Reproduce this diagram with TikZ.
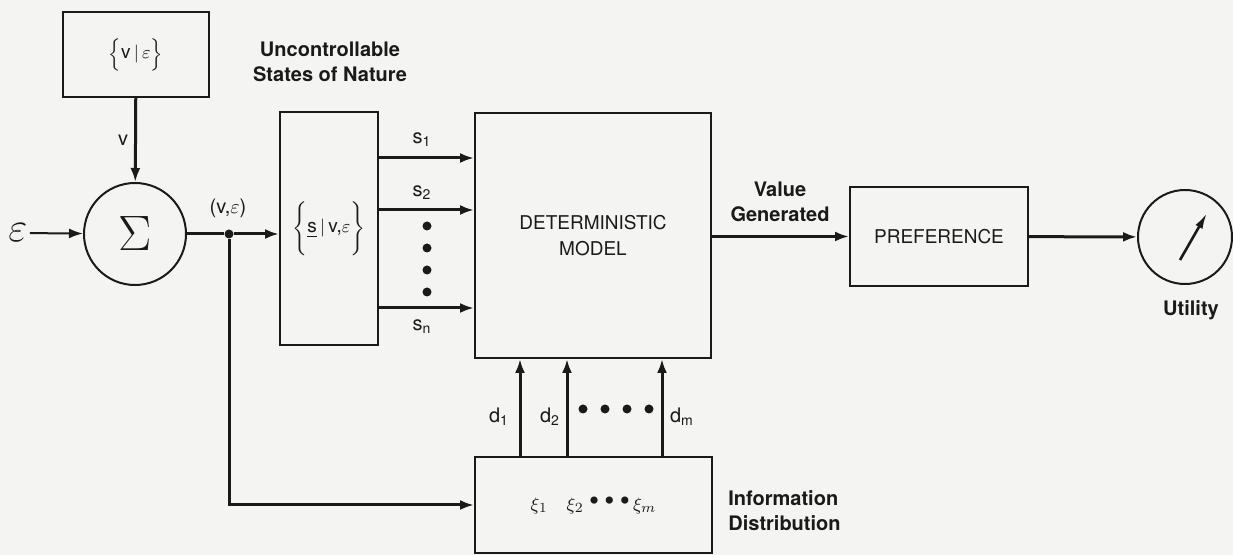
\documentclass[tikz,border=0pt]{standalone}
\usepackage{fontspec}
\setmainfont{TeX Gyre Heros}
\usepackage{amsmath}
\usetikzlibrary{arrows.meta,calc}
\definecolor{ink}{HTML}{1A1A1A}
\definecolor{paper}{HTML}{F4F4F2}

\begin{document}
\begin{tikzpicture}[x=0.5pt,y=-0.5pt,
  blk/.style={draw=ink,line width=1pt,text=ink,inner sep=0pt,font=\fontsize{9.5}{13}\selectfont,align=center},
  lbl/.style={text=ink,font=\fontsize{10}{12.5}\selectfont\bfseries,align=center,inner sep=1pt},
  sym/.style={text=ink,font=\fontsize{10}{12}\selectfont,inner sep=1pt},
  arr/.style={-{Latex[length=7pt,width=5pt]},line width=1.5pt,draw=ink},
  pt/.style={circle,fill=ink,inner sep=0pt,minimum size=4.5pt},
]
  \fill[paper] (0,0) rectangle (1233,555);
  \useasboundingbox (0,0) rectangle (1233,555);

  % input side
  \node[blk,minimum width=73pt,minimum height=42.5pt] (vbox) at (136,54.5) {$\Big\{$v\,$|$\,$\varepsilon\Big\}$};
  \node[blk,circle,minimum size=51pt] (sum) at (135,234) {\fontsize{27}{27}\selectfont$\Sigma$};
  \node[sym,font=\fontsize{20}{20}\selectfont] (eps) at (18,233) {$\varepsilon$};
  \node[sym] (vlab) at (123,140) {v};
  \node[pt] (jun) at (229,234) {};
  \node[sym] (velab) at (228,208) {(v,$\varepsilon$)};

  % states and model
  \node[blk,minimum width=49pt,minimum height=116.5pt] (states) at (329,228.5) {$\Bigg\{\underline{\text{s}}$\,$|$\,v,$\varepsilon\Bigg\}$};
  \node[lbl] (stlab) at (330,62) {Uncontrollable\\States of Nature};
  \node[blk,minimum width=118pt,minimum height=122.5pt] (model) at (593,235.5) {DETERMINISTIC\\MODEL};
  \node[blk,minimum width=118.5pt,minimum height=48pt] (info) at (593.5,505)
    {$\xi_1$\quad$\xi_2$\ {\Large\textbullet}\ {\Large\textbullet}\ {\Large\textbullet}\,$\xi_m$};
  \node[lbl,align=left,anchor=west] (inflab) at (726,511) {Information\\Distribution};

  % output side
  \node[blk,minimum width=89pt,minimum height=49.5pt] (pref) at (939,236.5) {PREFERENCE};
  \node[blk,circle,minimum size=47pt] (dial) at (1185,237) {};
  \node[lbl] (utlab) at (1191,310) {Utility};
  \node[lbl] (vglab) at (780,202) {Value\\Generated};

  % connectors
  \draw[arr] (vbox) -- (sum);
  \draw[arr,line width=1pt] (eps) -- (sum);
  \draw[line width=1.5pt,draw=ink] (sum) -- (jun);
  \draw[arr] (jun) -- (states.west |- jun);
  \draw[arr] (jun) |- (info.west);
  \draw[arr] (model.east |- pref) -- (pref);
  \draw[arr] (pref) -- (dial);
  \draw[-{Latex[length=8pt,width=4pt]},line width=1.3pt,draw=ink]
    ($(dial.center)+(-5,23)$) -- ($(dial.center)+(22,-24)$);

  % states of nature
  \draw[arr] (states.east |- 0,158) -- (model.west |- 0,158);
  \draw[arr] (states.east |- 0,210) -- (model.west |- 0,210);
  \draw[arr] (states.east |- 0,308) -- (model.west |- 0,308);
  \node[sym] at (422,140) {s\textsubscript{1}};
  \node[sym] at (422,193) {s\textsubscript{2}};
  \node[sym] at (422,327) {s\textsubscript{n}};
  \foreach \y in {226,248,270,292}
    \node[pt] at (427,\y) {};

  % decisions
  \foreach \x in {520,567,662}
    \draw[arr] (info.north -| \x,0) -- (model.south -| \x,0);
  \node[sym] at (499,417) {d\textsubscript{1}};
  \node[sym] at (550,417) {d\textsubscript{2}};
  \node[sym] at (682,417) {d\textsubscript{m}};
  \foreach \x in {583,605,627,649}
    \node[pt] at (\x,409) {};
\end{tikzpicture}
\end{document}
